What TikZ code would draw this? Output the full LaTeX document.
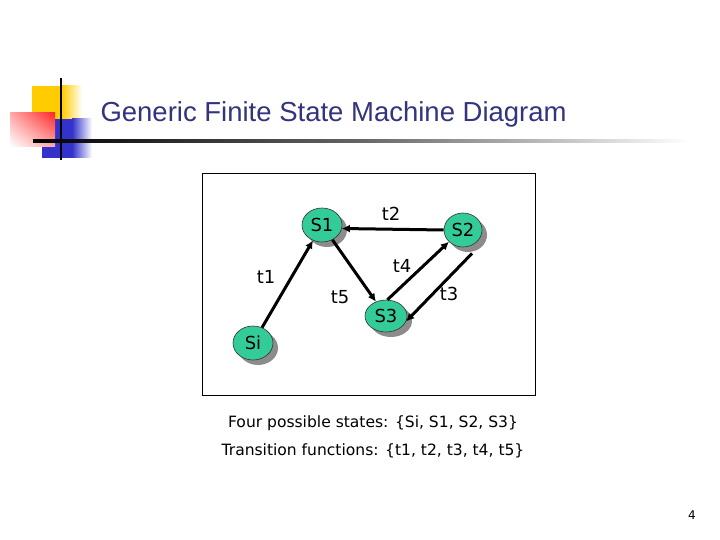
\documentclass[tikz,border=0pt]{standalone}
\usepackage{fontspec}
\setmainfont{DejaVu Sans}
\newfontfamily\titlefont{Liberation Sans}
\usetikzlibrary{shapes.geometric,arrows.meta,shadows,shadings}
\definecolor{titleblue}{RGB}{51,51,128}
\definecolor{stategreen}{RGB}{51,204,153}
\definecolor{decoyellow}{RGB}{255,204,0}
\definecolor{decoblue}{RGB}{51,51,204}
\definecolor{decored}{RGB}{255,40,40}
\tikzset{
  state/.style={ellipse, draw=black!80, line width=0.6bp, fill=stategreen,
    minimum width=40bp, minimum height=34bp, inner sep=0pt,
    font=\fontsize{18}{18}\selectfont,
    drop shadow={shadow xshift=5bp, shadow yshift=-5bp, fill=gray!90, opacity=1}},
  trans/.style={line width=3bp, -{Latex[length=8bp,width=8bp]}},
  tlabel/.style={font=\fontsize{18}{18}\selectfont},
  caption/.style={font=\fontsize{15.6}{15.6}\selectfont}
}
\begin{document}
\begin{tikzpicture}[x=1bp,y=-1bp]
\useasboundingbox (0,0) rectangle (720,540);
\fill[white] (0,0) rectangle (720,540);
% decoration
\fill[decoyellow] (32,86) rectangle (62,134);
\shade[left color=decoyellow, right color=white] (62,86) rectangle (82,134);
\fill[decoblue] (42,119) rectangle (72,158);
\shade[left color=decoblue, right color=white] (72,119) rectangle (92,158);
\shade[upper right=decored, upper left=decored!40, lower right=decored!40, lower left=white] (10,113) rectangle (55,147);
\draw[line width=2bp] (61,78) -- (61,160);
\shade[left color=black, right color=white, middle color=black!60] (33,140) rectangle (690,142.5);
% title
\node[anchor=west, text=titleblue, font=\titlefont\fontsize{27.6}{27.6}\selectfont] (title) at (97,114) {Generic Finite State Machine Diagram};
% frame
\draw[line width=0.8bp] (202,173) rectangle (535,395);
% states
\node[state] (S1) at (322,225) {S1};
\node[state, minimum width=38bp] (S2) at (463,230) {S2};
\node[state, minimum width=42bp, minimum height=32bp] (S3) at (386,316) {S3};
\node[state] (Si) at (253,343) {Si};
% transitions
\draw[trans] (Si) -- (S1);
\draw[trans] (S2.west) -- (S1.-10);
\draw[trans] (S1) -- (S3);
\draw[trans] (S3.85) -- (S2.220);
\draw[trans] ([shift={(3bp,-7bp)}]S2.290) -- (S3.345);
% labels
\node[tlabel] (l1) at (266,277) {t1};
\node[tlabel] (l2) at (391,214) {t2};
\node[tlabel] (l3) at (449,294) {t3};
\node[tlabel] (l4) at (402,266) {t4};
\node[tlabel] (l5) at (340,297) {t5};
% captions
\node[caption] (c1) at (373,423) {Four possible states: \{Si, S1, S2, S3\}};
\node[caption] (c2) at (373,451) {Transition functions: \{t1, t2, t3, t4, t5\}};
\node[font=\fontsize{12}{12}\selectfont] (pg) at (692,515) {4};
\end{tikzpicture}
\end{document}
